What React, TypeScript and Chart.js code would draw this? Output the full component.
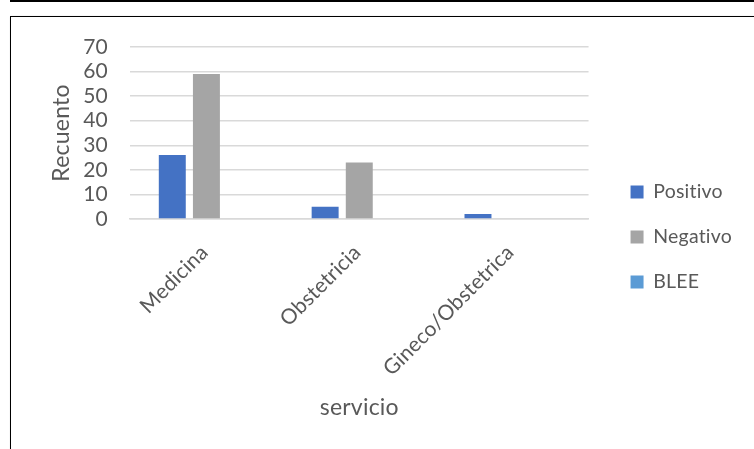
import React, { useEffect, useRef } from "react";
import { Chart, registerables } from "chart.js";

Chart.register(...registerables);

const categories = ["Medicina", "Obstetricia", "Gineco/Obstetrica"];
const positivo = [26, 5, 2];
const negativo = [59, 23, 0];
const blee = [0, 0, 0];
const yTicks = [0, 10, 20, 30, 40, 50, 60, 70];

const FONT = "Lato, 'Open Sans', sans-serif";
const TEXT = "#595959";

const noLigatures = {
  id: "noLigatures",
  beforeLayout(chart: any) {
    try {
      chart.ctx.letterSpacing = "0.2px";
    } catch (e) {}
  },
  beforeDraw(chart: any) {
    try {
      chart.ctx.letterSpacing = "0.2px";
    } catch (e) {}
  },
};

export default function App() {
  const ref = useRef<HTMLCanvasElement | null>(null);
  useEffect(() => {
    if (!ref.current) return;
    const chart = new Chart(ref.current, {
      type: "bar",
      data: {
        labels: categories,
        datasets: [
          { label: "Positivo", data: positivo, backgroundColor: "#4472C4", borderWidth: 0 },
          { label: "Negativo", data: negativo, backgroundColor: "#A5A5A5", borderWidth: 0 },
          { label: "BLEE", data: blee, backgroundColor: "#5B9BD5", borderWidth: 0 },
        ],
      },
      plugins: [noLigatures],
      options: {
        responsive: false,
        animation: false,
        devicePixelRatio: 1,
        layout: { padding: { left: 0, top: 29, right: 12, bottom: 22 } },
        datasets: { bar: { categoryPercentage: 0.67, barPercentage: 0.79 } },
        plugins: {
          tooltip: { enabled: false },
          legend: {
            position: "right",
            maxWidth: 300,
            labels: {
              color: TEXT,
              font: { family: FONT, size: 19.5 },
              boxWidth: 13,
              boxHeight: 13,
              padding: 25.5,
            },
          },
        },
        scales: {
          x: {
            afterFit: (s: any) => {
              s.height = 208;
            },
            grid: { display: false, drawTicks: false },
            border: { display: true, color: "#d9d9d9", width: 1.5 },
            ticks: {
              color: TEXT,
              font: { family: FONT, size: 21 },
              minRotation: 45,
              maxRotation: 45,
              autoSkip: false,
              padding: 21,
              labelOffset: -2,
            },
            title: {
              display: true,
              text: "servicio",
              color: TEXT,
              font: { family: FONT, size: 23 },
              padding: { top: 4, bottom: 5.2 },
            },
          },
          y: {
            min: 0,
            max: 70,
            afterBuildTicks: (scale: any) => {
              scale.ticks = yTicks.map((v) => ({ value: v }));
            },
            afterFit: (s: any) => {
              s.width = 119;
            },
            grid: {
              color: "#d9d9d9",
              lineWidth: 1.5,
              drawTicks: true,
              tickLength: 14,
              tickColor: "rgba(0,0,0,0)",
            },
            border: { display: false },
            ticks: {
              color: TEXT,
              font: { family: FONT, size: 21 },
              padding: 8,
              autoSkip: false,
            },
            title: {
              display: true,
              text: "Recuento",
              color: TEXT,
              font: { family: FONT, size: 23 },
              padding: { top: 37, bottom: 4 },
            },
          },
          gap: {
            type: "linear",
            position: "right",
            min: 0,
            max: 1,
            display: true,
            afterFit: (s: any) => {
              s.width = 16.5;
            },
            grid: { display: false, drawTicks: false },
            border: { display: false },
            ticks: { display: false },
          },
        },
      },
    });
    return () => chart.destroy();
  }, []);

  return (
    <div
      style={{
        position: "fixed",
        left: 0,
        top: 0,
        width: 754,
        height: 449,
        overflow: "hidden",
        background: "#fff",
      }}
    >
      <div style={{ position: "absolute", left: 10, top: 0, right: 0, height: 2, background: "#000" }} />
      <div
        style={{
          position: "absolute",
          left: 10,
          top: 16,
          width: 800,
          height: 500,
          border: "1.5px solid #000",
          boxShadow: "1px 1px 2px rgba(0,0,0,0.4)",
          boxSizing: "border-box",
        }}
      />
      <canvas
        ref={ref}
        width={743}
        height={431}
        style={{ position: "absolute", left: 11, top: 18, width: 743, height: 431 }}
      />
    </div>
  );
}
